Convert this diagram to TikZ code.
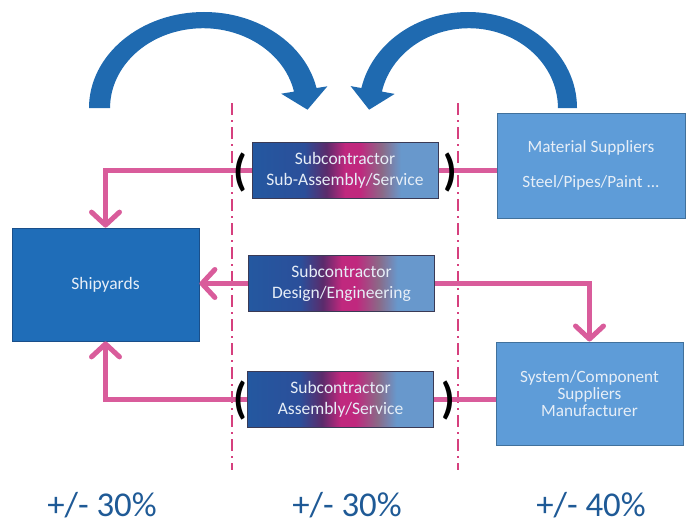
\documentclass[tikz,border=0pt]{standalone}
\usepackage{fontspec}
\setmainfont{Carlito}
\usetikzlibrary{arrows.meta}
\definecolor{yardblue}{HTML}{1F6DB8}
\definecolor{yardline}{HTML}{1A4F8A}
\definecolor{supblue}{HTML}{5E9CD8}
\definecolor{supline}{HTML}{41719C}
\definecolor{swoopblue}{HTML}{1F6AB0}
\definecolor{flowpink}{HTML}{D95C9B}
\definecolor{cutpink}{HTML}{D6407E}
\definecolor{pctblue}{HTML}{1F5A96}
\definecolor{boxtext}{HTML}{E6EEF7}
\definecolor{subA}{HTML}{2458A0}
\definecolor{subB}{HTML}{2B4F9A}
\definecolor{subC}{HTML}{5B2B6B}
\definecolor{subD}{HTML}{C0287E}
\definecolor{subE}{HTML}{8A6A88}
\definecolor{subF}{HTML}{6898CC}
\definecolor{subline}{HTML}{3A3A55}
\pgfdeclarehorizontalshading{subshade}{100bp}{color(0bp)=(subA); color(25bp)=(subA); color(39bp)=(subB); color(45bp)=(subC); color(50bp)=(subD); color(54bp)=(subD); color(60bp)=(subE); color(65bp)=(subF); color(100bp)=(subF)}
\tikzset{
  yard/.style={draw=yardline, fill=yardblue, line width=0.4pt, minimum width=93.5pt, minimum height=56.5pt, inner sep=0pt, font=\fontsize{8.75}{10.5}\selectfont, text=boxtext, align=center},
  supbox/.style={draw=supline, fill=supblue, line width=0.5pt, inner sep=0pt, font=\fontsize{8.6}{8.6}\selectfont, text=boxtext, align=center},
  subbox/.style={draw=subline, shading=subshade, line width=0.5pt, minimum width=93pt, minimum height=28pt, inner sep=0pt, font=\fontsize{8.75}{10.5}\selectfont, text=boxtext, align=center},
  flow/.style={draw=flowpink, line width=2.5pt},
  flowto/.style={flow, -{Straight Barb[length=6.5pt, width=14pt, line cap=round, line join=round]}},
  cut/.style={draw=cutpink, line width=1.3pt, dash pattern=on 6pt off 2.5pt on 1pt off 2.5pt},
  paren/.style={font=\fontsize{22}{22}\selectfont\bfseries, inner sep=0pt, text=black},
  pct/.style={font=\fontsize{17.4}{17.4}\selectfont, text=pctblue, inner sep=0pt},
  swoop/.style={fill=swoopblue},
}
\begin{document}
\begin{tikzpicture}[x=0.5pt,y=0.5pt]
  \useasboundingbox (0,0) rectangle (694,-524);
  % the two curved arrows on top
  \fill[swoop] (89,-108) arc[start angle=180, end angle=12, x radius=115, y radius=96]
    -- (327.4,-86.3) -- (307.5,-109.7) -- (281.2,-93.7) -- (294,-91.6)
    arc[start angle=12, end angle=180, x radius=93, y radius=80] -- cycle;
  \fill[swoop] (577,-108) arc[start angle=0, end angle=168, x radius=109, y radius=96]
    -- (350.6,-86.1) -- (369.1,-109.7) -- (394.7,-93.9) -- (381.9,-91.6)
    arc[start angle=168, end angle=0, x radius=89, y radius=80] -- cycle;
  % cut lines
  \coordinate (cutAtop) at (232,-103);
  \coordinate (cutAbot) at (232,-470);
  \coordinate (cutBtop) at (458,-103);
  \coordinate (cutBbot) at (458,-470);
  \draw[cut] (cutAtop) -- (cutAbot);
  \draw[cut] (cutBtop) -- (cutBbot);
  % boxes
  \node[yard] (shipyards) at (105.5,-284.5) {Shipyards};
  \node[supbox, minimum width=94pt, minimum height=52.5pt] (matsup) at (591,-165.5) {Material Suppliers\\[9pt]Steel/Pipes/Paint ...};
  \node[supbox, minimum width=93.5pt, minimum height=51.5pt] (syscomp) at (589.5,-393.5) {System/Component\\Suppliers\\Manufacturer};
  % flows (drawn under the subcontractor boxes)
  \coordinate (asmrow) at (345,-170.5);
  \coordinate (desrow) at (341.5,-283.5);
  \coordinate (srvrow) at (340.5,-399);
  \draw[flow] (matsup.west |- asmrow) -- (asmrow);
  \draw[flowto] (asmrow) -| (shipyards.north);
  \draw[flowto] (desrow) -- (shipyards.east |- desrow);
  \draw[flowto] (desrow) -| (syscomp.north);
  \draw[flow] (syscomp.west |- srvrow) -- (srvrow);
  \draw[flowto] (srvrow) -| (shipyards.south);
  \node[subbox] (subasm) at (asmrow) {Subcontractor\\Sub-Assembly/Service};
  \node[subbox] (subdes) at (desrow) {Subcontractor\\Design/Engineering};
  \node[subbox] (subsrv) at (srvrow) {Subcontractor\\Assembly/Service};
  % brackets
  \node[paren] (asmL) at (240,-172) {(};
  \node[paren] (asmR) at (450,-172) {)};
  \node[paren] (srvL) at (240,-400) {(};
  \node[paren] (srvR) at (448,-400) {)};
  % shares
  \node[pct] (pctyard) at (102,-505) {+/- 30\%};
  \node[pct] (pctsub) at (347,-505) {+/- 30\%};
  \node[pct] (pctsup) at (591,-505) {+/- 40\%};
\end{tikzpicture}
\end{document}
